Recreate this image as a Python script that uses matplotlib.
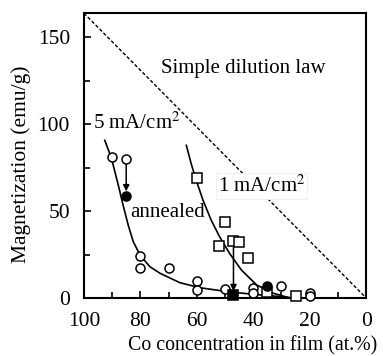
import numpy as np
import matplotlib
matplotlib.use("Agg")
import matplotlib.pyplot as plt

plt.rcParams['font.family'] = ['Liberation Serif', 'DejaVu Serif']
plt.rcParams['mathtext.fontset'] = 'stix'

# open circles: 5 mA/cm2 as deposited
circ_x = [90, 85, 80, 80, 70, 60, 60, 50, 40, 40, 30, 20, 20]
circ_y = [81, 80, 24, 17, 17, 9.5, 4.6, 5, 6, 3, 7, 3, 1.3]
# open squares: 1 mA/cm2 as deposited
sq_x = [60, 50, 52, 47, 45, 42, 35, 25]
sq_y = [69, 44, 30, 33, 32, 23, 3.7, 1.3]
# annealed (filled)
ann_circ_x = [85, 35]
ann_circ_y = [59, 7]
ann_sq_x = [47]
ann_sq_y = [1.5]

# guide curves
c5_x = [92.6, 90.2, 87.8, 86.1, 84.3, 82.5, 80.1, 76.6, 73, 66, 58.9, 49.4, 40, 30.5, 26]
c5_y = [90.8, 80.3, 64.9, 53.4, 42, 32.4, 24.7, 18, 14.2, 8.8, 5.9, 3.7, 2.1, 0.8, 0]
c1_x = [63.7, 62, 60.2, 57.8, 54.9, 51.9, 48.4, 44.2, 38.8, 32.9, 27]
c1_y = [87.9, 77.4, 67.8, 56.3, 44.8, 35.2, 25.7, 16.1, 7.5, 2.7, 0]

# simple dilution law
dil_x = [100, 0]
dil_y = [164, 0]

fig = plt.figure(figsize=(3.83, 3.56), dpi=100)
ax = fig.add_axes([0.219, 0.163, 0.737, 0.8])

ax.plot(dil_x, dil_y, color='k', lw=1.0, ls=(0, (2.5, 1.5)))
ax.plot(c5_x, c5_y, color='k', lw=1.2)
ax.plot(c1_x, c1_y, color='k', lw=1.2)

mk = dict(ms=6.5, mew=1.1, ls='none', clip_on=False, zorder=4)
ax.plot(circ_x, circ_y, 'o', mfc='white', mec='k', **mk)
ax.plot(sq_x, sq_y, 's', mfc='white', mec='k', **mk)
ax.plot(ann_circ_x, ann_circ_y, 'o', mfc='k', mec='k', **mk)
ax.plot(ann_sq_x, ann_sq_y, 's', mfc='k', mec='k', **mk)

# arrows for annealing
arr = dict(arrowstyle='-|>', color='k', lw=1.1, mutation_scale=9,
           shrinkA=4, shrinkB=3)
ax.annotate('', xy=(85, 59), xytext=(85, 80), arrowprops=arr, zorder=3)
ax.annotate('', xy=(47, 1.5), xytext=(47, 33), arrowprops=arr, zorder=3)

ax.text(43.6, 132, 'Simple dilution law', fontsize=15, ha='center', va='center')
ax.text(96.8, 100.6, r'5 mA/cm$^{2}$', fontsize=15, ha='left', va='center')
ax.text(83.7, 49.4, 'annealed', fontsize=15, ha='left', va='center')
ax.text(52.6, 64.4, r'1 mA/cm$^{2}$', fontsize=15, ha='left', va='center',
        bbox=dict(fc='white', ec='#eeeeee', lw=0.6, pad=1.5), zorder=5)

ax.set_xlim(100, 0)
ax.set_ylim(0, 164)
ax.set_xticks([100, 80, 60, 40, 20, 0])
ax.set_xticks(np.arange(10, 100, 20), minor=True)
ax.set_yticks([0, 50, 100, 150])
ax.set_yticks([25, 75, 125], minor=True)
ax.tick_params(which='both', direction='in', top=False, right=False,
               labelsize=15.5, width=1.2)
ax.tick_params(axis='x', which='major', length=5, pad=10)
ax.tick_params(axis='y', which='major', length=5, pad=10)
ax.tick_params(which='minor', length=4)
for s in ax.spines.values():
    s.set_linewidth(1.5)

fig.text(0.055, 0.54, 'Magnetization (emu/g)', fontsize=15.5, rotation=90,
         ha='center', va='center')
fig.text(0.66, 0.03, 'Co concentration in film (at.%)', fontsize=14.3,
         ha='center', va='center')

fig.savefig('out.png', dpi=100)
